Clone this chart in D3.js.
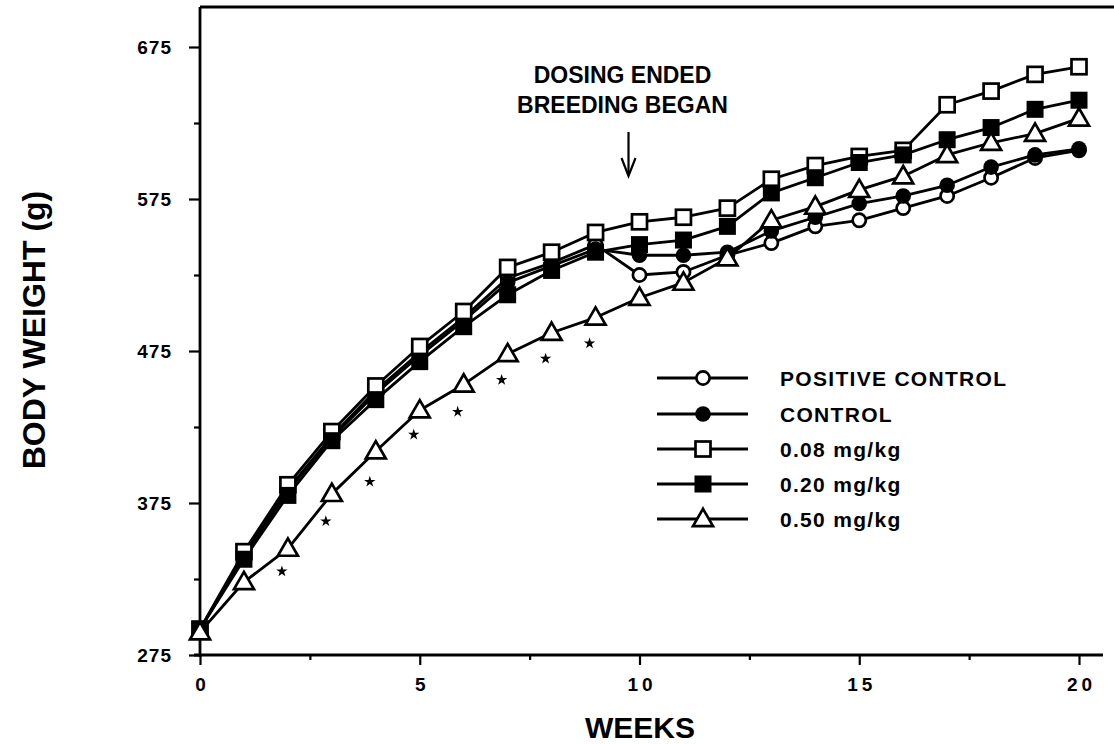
<!DOCTYPE html>
<html><head><meta charset="utf-8">
<script src="https://cdn.jsdelivr.net/npm/d3@7"></script>
<style>
body{margin:0;background:#fff}
text{font-family:"Liberation Sans",Arial,Helvetica,sans-serif;font-weight:bold;fill:#000}
</style>
</head><body>
<svg id="chart" width="1114" height="744"></svg>
<script>
// ---- data ----
const weeks = [0,1,2,3,4,5,6,7,8,9,10,11,12,13,14,15,16,17,18,19,20];
const positiveControl = [292,341,384,419,449,474,497,523,533,545,525,527,538,546,557,561,569,577,589,602,607];
const control        = [292,340,383,418,447,472,495,520,531,542,538,538,540,554,563,572,577,584,596,604,608];
const dose008        = [292,343,387,422,452,478,501,530,540,553,560,563,569,588,597,603,607,637,646,657,662];
const dose020        = [292,338,380,416,443,468,491,512,528,540,545,548,557,579,589,599,604,614,622,634,640];
const dose050        = [290,323,345,381,409,436,453,473,487,497,510,520,536,561,570,581,590,604,612,618,628];
const starWeeks      = [2,3,4,5,6,7,8,9];
const starValues     = [330,363,389,420,435,456,470,480];
const yMajorTicks = [275,375,475,575,675];
const yMinorTicks = [325,425,525,625];
const xMajorTicks = [0,5,10,15,20];
const xMinorTicks = [2.5,7.5,12.5,17.5];
const seriesNames = ["POSITIVE CONTROL","CONTROL","0.08 mg/kg","0.20 mg/kg","0.50 mg/kg"];
const seriesShapes = ["circleOpen","circleFilled","squareOpen","squareFilled","triangleOpen"];
const annotationLines = ["DOSING ENDED","BREEDING BEGAN"];
const annotationWeek = 9.75;

const seriesValues = [positiveControl, control, dose008, dose020, dose050];

// ---- layout ----
const svg = d3.select("#chart");
const x = d3.scaleLinear().domain([0,20]).range([200,1079]);
const y = d3.scaleLinear().domain([275,675]).range([655,47]);
const topY = 7;

// frame lines
svg.append("line").attr("x1",x(0)).attr("x2",x(0)).attr("y1",y(275)+2).attr("y2",topY)
  .attr("stroke","#000").attr("stroke-width",2.8);
svg.append("line").attr("x1",x(0)).attr("x2",1114).attr("y1",topY).attr("y2",topY)
  .attr("stroke","#000").attr("stroke-width",2.8);
svg.append("line").attr("x1",x(0)-6).attr("x2",1103).attr("y1",y(275)).attr("y2",y(275))
  .attr("stroke","#000").attr("stroke-width",2.8);

// y axis
const yMaj = svg.append("g").attr("transform",`translate(${x(0)},0)`)
  .call(d3.axisLeft(y).tickValues(yMajorTicks).tickSize(11).tickPadding(17).tickFormat(d3.format("d")));
const yMin = svg.append("g").attr("transform",`translate(${x(0)},0)`)
  .call(d3.axisLeft(y).tickValues(yMinorTicks).tickSize(6).tickFormat(""));
// x axis
const xMaj = svg.append("g").attr("transform",`translate(0,${y(275)})`)
  .call(d3.axisBottom(x).tickValues(xMajorTicks).tickSize(10).tickPadding(13).tickFormat(d3.format("d")));
const xMin = svg.append("g").attr("transform",`translate(0,${y(275)})`)
  .call(d3.axisBottom(x).tickValues(xMinorTicks).tickSize(5).tickFormat(""));
[yMaj,yMin,xMaj,xMin].forEach(g=>{
  g.select(".domain").remove();
  g.selectAll(".tick line").attr("stroke","#000").attr("stroke-width",2.2);
  g.selectAll(".tick text").attr("font-size",19).attr("letter-spacing","1px")
    .attr("font-family","Liberation Sans, Arial, sans-serif").attr("font-weight","bold").attr("fill","#000");
});
xMaj.selectAll(".tick text").attr("letter-spacing","4px").attr("dx","2px");

// axis titles
svg.append("text").attr("x",640).attr("y",738).attr("text-anchor","middle")
  .attr("font-size",30).text("WEEKS");
svg.append("text").attr("transform",`translate(45,${330}) rotate(-90)`).attr("text-anchor","middle")
  .attr("font-size",32).text("BODY WEIGHT (g)");

// lines
const line = d3.line().x((d,i)=>x(weeks[i])).y(d=>y(d));
seriesValues.forEach(vals=>{
  svg.append("path").datum(vals).attr("d",line).attr("fill","none")
    .attr("stroke","#000").attr("stroke-width",2.8).attr("stroke-linejoin","round");
});

// marker drawing
function drawMarker(g, shape, cx, cy){
  if(shape==="circleOpen"){
    g.append("circle").attr("cx",cx).attr("cy",cy).attr("r",6.6).attr("fill","#fff").attr("stroke","#000").attr("stroke-width",2.7);
  } else if(shape==="circleFilled"){
    g.append("circle").attr("cx",cx).attr("cy",cy).attr("r",7.8).attr("fill","#000");
  } else if(shape==="squareOpen"){
    g.append("rect").attr("x",cx-7.5).attr("y",cy-7.5).attr("width",15).attr("height",15).attr("fill","#fff").attr("stroke","#000").attr("stroke-width",2.7);
  } else if(shape==="squareFilled"){
    g.append("rect").attr("x",cx-8.5).attr("y",cy-8.5).attr("width",17).attr("height",17).attr("fill","#000");
  } else if(shape==="triangleOpen"){
    const h=17, w=20;
    g.append("path").attr("d",`M${cx},${cy-h*0.6}L${cx+w/2},${cy+h*0.42}L${cx-w/2},${cy+h*0.42}Z`)
      .attr("fill","#fff").attr("stroke","#000").attr("stroke-width",2.7).attr("stroke-linejoin","miter");
  }
}
const mg = svg.append("g");
seriesValues.forEach((vals,s)=>{
  vals.forEach((v,i)=>drawMarker(mg, seriesShapes[s], x(weeks[i]), y(v)));
});

// significance stars
starWeeks.forEach((w,i)=>{
  svg.append("path").attr("d",d3.symbol().type(d3.symbolStar).size(40)())
    .attr("transform",`translate(${x(w)-6},${y(starValues[i])})`).attr("fill","#000");
});

// annotation
const ax = x(annotationWeek);
annotationLines.forEach((t,i)=>{
  svg.append("text").attr("x",ax-6).attr("y",83+i*30).attr("text-anchor","middle")
    .attr("font-size",23).text(t);
});
svg.append("line").attr("x1",ax).attr("x2",ax).attr("y1",132).attr("y2",175).attr("stroke","#000").attr("stroke-width",2.2);
svg.append("path").attr("d",`M${ax-7},${158}L${ax},${176}L${ax+7},${158}`).attr("fill","none").attr("stroke","#000").attr("stroke-width",2.2);

// legend
const legendRowY = [378,414,449,484,519];
seriesNames.forEach((n,i)=>{
  const ly = legendRowY[i];
  svg.append("line").attr("x1",657).attr("x2",748).attr("y1",ly).attr("y2",ly).attr("stroke","#000").attr("stroke-width",2.8);
  drawMarker(svg, seriesShapes[i], 703, ly);
  svg.append("text").attr("x",780).attr("y",ly+8).attr("font-size",21).attr("letter-spacing","1.3px").text(n);
});
</script>
</body></html>
